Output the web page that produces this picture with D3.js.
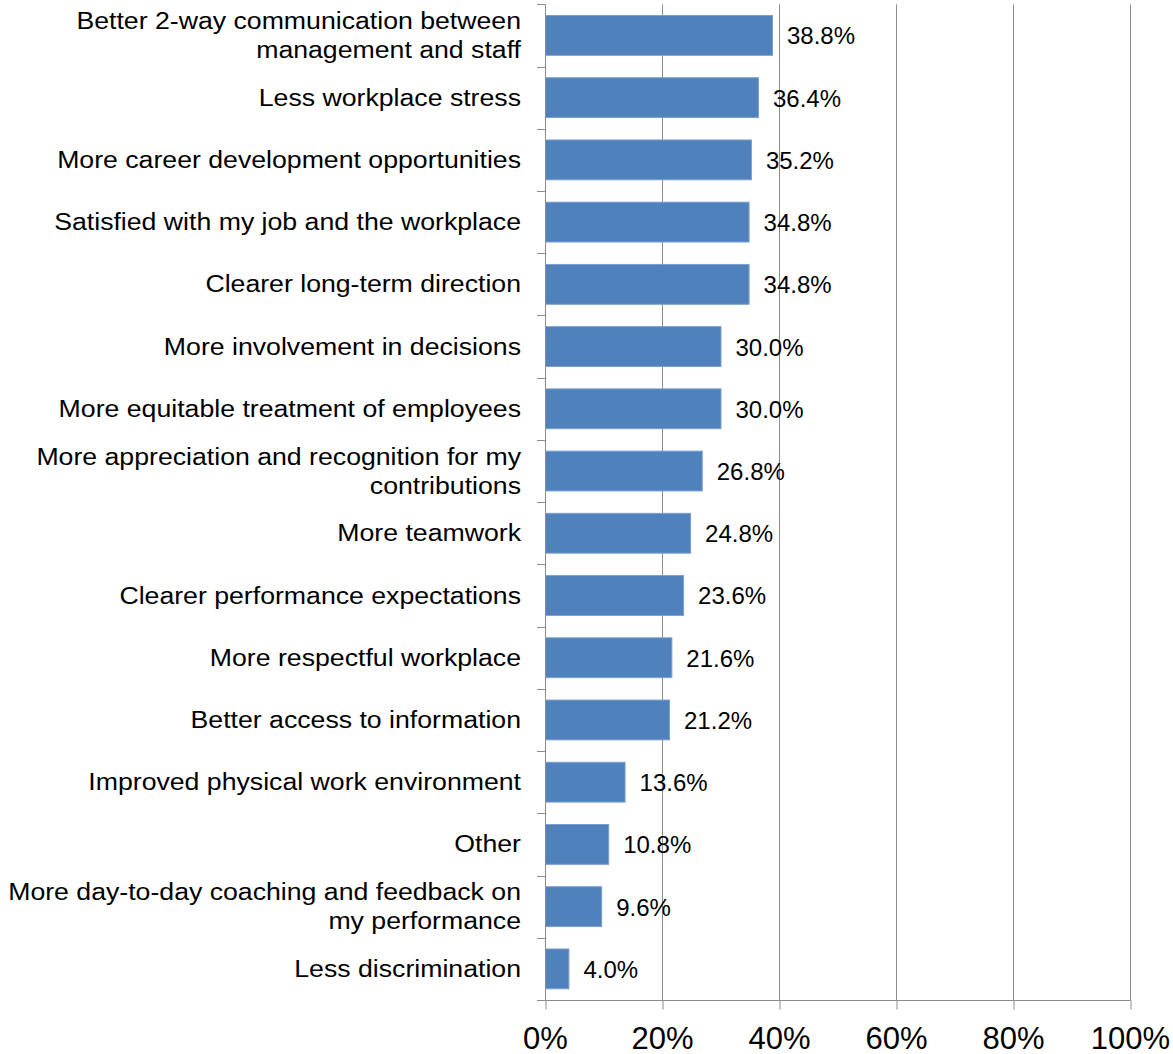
<!DOCTYPE html>
<html>
<head>
<meta charset="utf-8">
<script src="https://cdn.jsdelivr.net/npm/d3@7"></script>
<style>
  body { margin: 0; background: #fff; }
  svg text { font-family: "Liberation Sans", Arial, sans-serif; fill: #000; }
</style>
</head>
<body>
<div id="chart"></div>
<script>
const WIDTH = 1173, HEIGHT = 1054;
const LEFT = 545, RIGHT = 1130, TOP = 4.3, BOTTOM = 1000;

// categories, top to bottom (line breaks as in the picture)
var categories = [
    ["Better 2-way communication between", "management and staff"],
    ["Less workplace stress"],
    ["More career development opportunities"],
    ["Satisfied with my job and the workplace"],
    ["Clearer long-term direction"],
    ["More involvement in decisions"],
    ["More equitable treatment of employees"],
    ["More appreciation and recognition for my", "contributions"],
    ["More teamwork"],
    ["Clearer performance expectations"],
    ["More respectful workplace"],
    ["Better access to information"],
    ["Improved physical work environment"],
    ["Other"],
    ["More day-to-day coaching and feedback on", "my performance"],
    ["Less discrimination"]
];
var values = [38.8, 36.4, 35.2, 34.8, 34.8, 30.0, 30.0, 26.8, 24.8, 23.6, 21.6, 21.2, 13.6, 10.8, 9.6, 4.0];
var xTicks = [0, 20, 40, 60, 80, 100];

var loadChart = function () {
    var svg = d3.select('#chart').append('svg')
        .attr('width', WIDTH)
        .attr('height', HEIGHT);

    var xScale = d3.scaleLinear()
        .domain([0, 100])
        .range([LEFT, RIGHT]);

    var yScale = d3.scaleBand()
        .domain(d3.range(categories.length))
        .range([TOP, BOTTOM])
        .paddingInner(0.36)
        .paddingOuter(0.18);

    // gridlines
    svg.append('g')
        .selectAll('line')
        .data(xTicks.slice(1))
        .enter()
        .append('line')
        .attr('x1', function (d) { return Math.round(xScale(d)) + 0.5; })
        .attr('x2', function (d) { return Math.round(xScale(d)) + 0.5; })
        .attr('y1', TOP)
        .attr('y2', BOTTOM)
        .attr('stroke', '#8c8c8c')
        .attr('stroke-width', 1);

    // x axis
    var xAxis = d3.axisBottom(xScale)
        .tickValues(xTicks)
        .tickFormat(function (d) { return d + '%'; })
        .tickSize(9)
        .tickSizeOuter(0);

    var gx = svg.append('g')
        .attr('transform', 'translate(0,' + (BOTTOM + 0.5) + ')')
        .call(xAxis);
    gx.select('.domain').remove();
    gx.selectAll('.tick line').attr('stroke', '#8c8c8c')
        .attr('transform', 'translate(0.5,0)');
    gx.selectAll('.tick text')
        .attr('y', 48)
        .attr('dy', 0)
        .style('font-size', '31px')
        .style('font-family', '"Liberation Sans", Arial, sans-serif')
        .attr('fill', '#000');
    gx.append('line')
        .attr('x1', LEFT - 8)
        .attr('x2', RIGHT + 1)
        .attr('stroke', '#8c8c8c');

    // bars
    svg.append('g')
        .selectAll('rect')
        .data(values)
        .enter()
        .append('rect')
        .attr('x', LEFT + 0.5)
        .attr('y', function (d, i) { return yScale(i); })
        .attr('width', function (d) { return xScale(d) - LEFT; })
        .attr('height', yScale.bandwidth())
        .attr('fill', '#4f81bd')
        .attr('stroke', '#7b9fcf')
        .attr('stroke-width', 1);

    // y axis line and boundary ticks
    var step = yScale.step();
    var gy = svg.append('g');
    gy.append('line')
        .attr('x1', LEFT + 0.5).attr('x2', LEFT + 0.5)
        .attr('y1', TOP).attr('y2', BOTTOM)
        .attr('stroke', '#8c8c8c');
    gy.selectAll('.ytick')
        .data(d3.range(categories.length))
        .enter()
        .append('line')
        .attr('x1', LEFT - 8)
        .attr('x2', LEFT)
        .attr('y1', function (d) { return Math.round(yScale(d) - step * 0.18) + 0.5; })
        .attr('y2', function (d) { return Math.round(yScale(d) - step * 0.18) + 0.5; })
        .attr('stroke', '#8c8c8c');

    // value labels
    svg.append('g')
        .selectAll('text')
        .data(values)
        .enter()
        .append('text')
        .attr('x', function (d) { return xScale(d) + 15; })
        .attr('y', function (d, i) { return yScale(i) + yScale.bandwidth() / 2 + 9; })
        .style('font-size', '24px')
        .text(function (d) { return d.toFixed(1) + '%'; });

    // category labels (text in the picture is drawn wide)
    var labels = svg.append('g')
        .selectAll('g')
        .data(categories)
        .enter()
        .append('g')
        .attr('transform', function (d, i) {
            var c = yScale(i) + yScale.bandwidth() / 2;
            return 'translate(521,' + c + ') scale(1.16,1)';
        });
    labels.each(function (lines) {
        var g = d3.select(this);
        var lh = 29;
        var first = 8 - (lines.length - 1) * lh / 2;
        lines.forEach(function (line, k) {
            g.append('text')
                .attr('x', 0)
                .attr('y', first + k * lh)
                .attr('text-anchor', 'end')
                .style('font-size', '23px')
                .text(line);
        });
    });
};

window.onload = loadChart;
</script>
</body>
</html>
